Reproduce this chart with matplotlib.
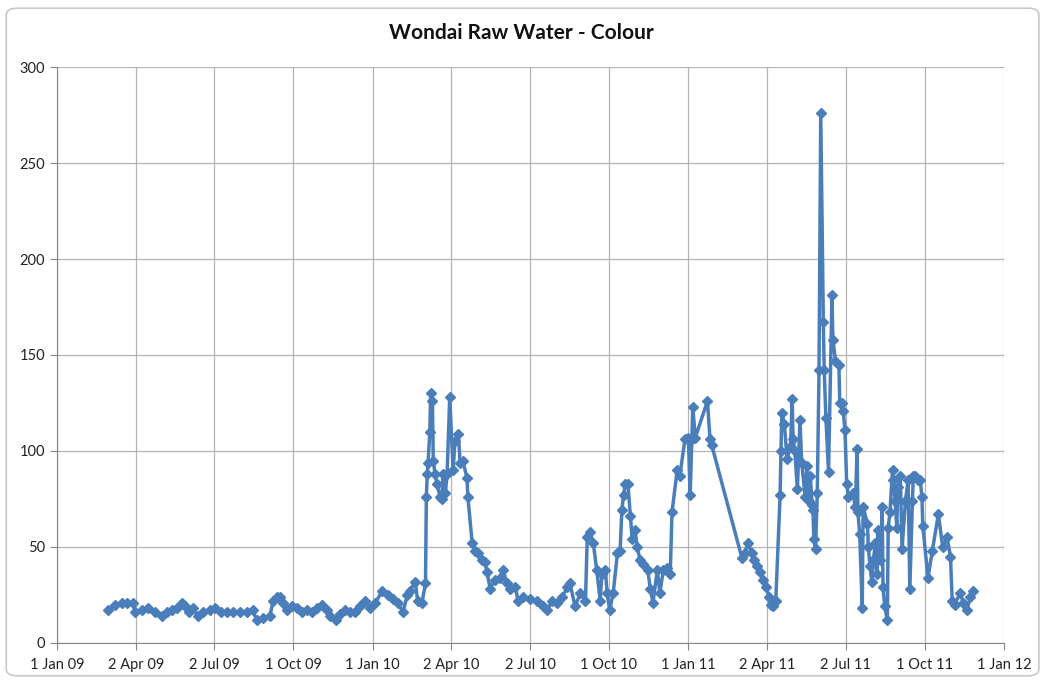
import datetime as dt
import matplotlib
matplotlib.use("Agg")
import matplotlib.pyplot as plt
from matplotlib.patches import FancyBboxPatch

start = dt.date(2009, 1, 1)

# days after 1 Jan 09 for each sample, and the colour reading (Pt-Co units)
days_2009 = [59, 67, 75, 81, 88, 90, 98, 105, 113, 121, 127, 133, 139, 145, 148, 152,
             157, 163, 169, 177, 183, 189, 197, 204, 212, 220, 226, 231, 238, 246, 250,
             254, 258, 261, 266, 272, 278, 283, 289, 295, 301, 306, 312, 316, 322, 327,
             333, 339, 345, 350, 356, 362, 368, 376, 383, 389, 394, 400, 405, 408, 414,
             417, 422]
colour_2009 = [17, 20, 21, 21, 21, 16, 17, 18, 16, 14, 16, 17, 18, 21, 19, 16,
               18, 14, 16, 17, 18, 16, 16, 16, 16, 16, 17, 12, 13, 14, 22,
               24, 24, 21, 17, 19, 18, 16, 17, 16, 18, 20, 17, 14, 12, 15,
               17, 16, 16, 19, 22, 18, 21, 27, 25, 23, 21, 16, 25, 27, 32,
               22, 21]

days_2010a = [426, 427, 428, 429, 431, 432, 434, 435, 437, 439, 443, 445, 446, 449, 451,
              454, 458, 460, 464, 466, 469, 474, 475, 480, 483, 487, 491, 495, 497, 501,
              506, 512, 516, 520, 524, 530, 533, 539, 547, 555, 562, 567, 572, 578, 584,
              590]
colour_2010a = [31, 76, 88, 94, 110, 130, 126, 95, 88, 83, 76, 75, 88, 78, 88,
                128, 90, 105, 109, 94, 95, 86, 76, 52, 48, 47, 43, 42, 37, 28,
                33, 34, 38, 31, 28, 29, 22, 24, 23, 22, 19, 17, 22, 21, 24,
                29]

days_2010b = [593, 599, 605, 611, 613, 616, 620, 624, 628, 630, 634, 636, 639, 643, 648,
              651, 653, 655, 657, 660, 663, 665, 668, 671, 674, 678, 683, 686, 689, 694,
              697, 701, 705, 709, 711, 717, 720, 726, 730, 732, 734, 735, 738, 752, 755,
              757]
colour_2010b = [31, 19, 26, 22, 55, 58, 52, 38, 22, 36, 38, 26, 17, 26, 47,
                48, 69, 77, 83, 83, 66, 54, 59, 50, 43, 41, 38, 28, 21, 38,
                26, 38, 39, 36, 68, 90, 87, 106, 107, 77, 106, 123, 107, 126, 106,
                103]

days_2011a = [792, 795, 799, 803, 806, 809, 813, 816, 820, 823, 826, 828, 831]
colour_2011a = [44, 47, 52, 47, 43, 40, 37, 33, 29, 24, 20, 19, 22]

days_2011b = [836, 837, 838, 841, 844, 848, 850, 851, 853, 856, 859, 861, 865, 867, 870,
              871, 873, 874, 875, 877, 879, 881, 883, 886, 887, 889, 892, 896, 897, 900,
              904, 905, 908, 909, 911, 913, 915, 920, 923, 925, 926, 928, 931, 932, 937,
              938, 940, 942, 944, 946, 948, 949, 952, 954, 955, 957, 960, 961, 963, 966,
              967, 969, 971, 972, 975, 977, 981, 984, 986, 989, 990, 992, 996, 998, 1000,
              1001, 1007, 1012, 1019, 1024, 1029, 1033, 1035, 1038, 1044, 1048, 1052, 1056,
              1059]
colour_2011b = [77, 100, 120, 114, 96, 102, 127, 106, 100, 80, 116, 94, 76, 92, 74,
                87, 72, 69, 54, 49, 78, 142, 276, 167, 142, 117, 89, 181, 158, 147,
                145, 125, 125, 121, 111, 83, 76, 78, 71, 101, 68, 57, 18, 71, 62,
                50, 40, 32, 43, 52, 36, 59, 43, 71, 29, 19, 12, 60, 68, 90,
                85, 74, 60, 81, 87, 49, 74, 85, 28, 74, 87, 87, 85, 85, 76,
                61, 34, 48, 67, 50, 55, 45, 22, 20, 26, 21, 17, 24,
                27]

tick_dates = [dt.date(2009, 1, 1), dt.date(2009, 4, 2), dt.date(2009, 7, 2), dt.date(2009, 10, 1),
              dt.date(2010, 1, 1), dt.date(2010, 4, 2), dt.date(2010, 7, 2), dt.date(2010, 10, 1),
              dt.date(2011, 1, 1), dt.date(2011, 4, 2), dt.date(2011, 7, 2), dt.date(2011, 10, 1),
              dt.date(2012, 1, 1)]
tick_labels = ["1 Jan 09", "2 Apr 09", "2 Jul 09", "1 Oct 09", "1 Jan 10", "2 Apr 10",
               "2 Jul 10", "1 Oct 10", "1 Jan 11", "2 Apr 11", "2 Jul 11", "1 Oct 11",
               "1 Jan 12"]

days = days_2009 + days_2010a + days_2010b + days_2011a + days_2011b
colour = colour_2009 + colour_2010a + colour_2010b + colour_2011a + colour_2011b
dates = [start + dt.timedelta(days=d) for d in days]

plt.rcParams['font.family'] = ['Lato', 'DejaVu Sans']

fig = plt.figure(figsize=(10.43, 6.84), dpi=100)
# light frame round the whole chart, like the Excel chart area
fig.patches.append(FancyBboxPatch((0.006, 0.012), 0.99, 0.976, boxstyle="round,pad=0,rounding_size=0.01",
                                  transform=fig.transFigure, facecolor="none",
                                  edgecolor="#c8c8c8", linewidth=1.2))

ax = fig.add_axes([0.0547, 0.06, 0.908, 0.842])
ax.plot(dates, colour, color="#4A7EBB", linewidth=2.5, marker="D", markersize=5.5,
        markerfacecolor="#4A7EBB", markeredgecolor="#4A7EBB", zorder=3)

ax.set_xlim(tick_dates[0], tick_dates[-1])
ax.set_ylim(0, 300)
ax.set_xticks(tick_dates)
ax.set_xticklabels(tick_labels)
ax.set_yticks(range(0, 301, 50))

ax.grid(True, color="#b4b4b4", linewidth=0.9)
ax.set_axisbelow(True)
for side in ["top", "right"]:
    ax.spines[side].set_visible(False)
ax.spines["left"].set_color("#868686")
ax.spines["bottom"].set_color("#868686")
ax.tick_params(axis="both", colors="#868686", labelcolor="#222222", labelsize=10.5, length=5)
ax.tick_params(axis="x", pad=6)

fig.text(0.5, 0.952, "Wondai Raw Water - Colour", ha="center", va="center",
         fontsize=15, fontweight="bold", color="#111111")

fig.savefig("out.png", dpi=100)
